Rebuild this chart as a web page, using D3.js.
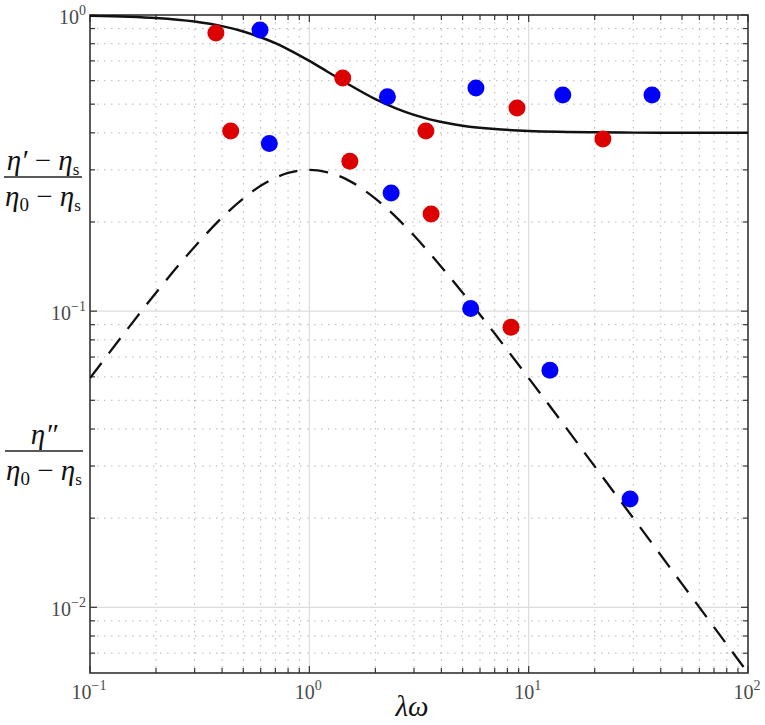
<!DOCTYPE html>
<html>
<head>
<meta charset="utf-8">
<script src="https://cdn.jsdelivr.net/npm/d3@7"></script>
<style>
  body { margin: 0; background: #fff; }
  svg text { font-family: "Liberation Serif", "DejaVu Serif", serif; }
</style>
</head>
<body>
<div class="container"></div>
<script>
// data
const redX = [0.375, 1.42, 0.438, 3.40, 8.85, 21.8, 1.53, 3.59, 8.31]
const redY = [0.869, 0.613, 0.406, 0.406, 0.485, 0.381, 0.321, 0.213, 0.0883]
const blueX = [0.596, 2.27, 5.75, 14.3, 36.5, 0.657, 2.36, 5.44, 12.5, 29.0]
const blueY = [0.890, 0.530, 0.567, 0.537, 0.537, 0.368, 0.2505, 0.102, 0.0632, 0.0232]

// solid (storage) and dashed (loss) curves
const curveX = [0.1, 0.15, 0.2, 0.3, 0.4, 0.5, 0.6, 0.7, 0.8, 1, 1.2, 1.5, 2, 2.5, 3, 4, 5, 7, 10, 15, 20, 30, 50, 70, 100]
const storageY = [0.994, 0.987, 0.977, 0.950, 0.917, 0.880, 0.841, 0.803, 0.766, 0.700, 0.646, 0.585, 0.520, 0.483, 0.460, 0.435, 0.423, 0.412, 0.406, 0.403, 0.4015, 0.4007, 0.4002, 0.4001, 0.4]
const lossY = [0.0594, 0.088, 0.1154, 0.165, 0.207, 0.240, 0.265, 0.282, 0.293, 0.300, 0.295, 0.277, 0.240, 0.207, 0.180, 0.141, 0.1154, 0.084, 0.0594, 0.0399, 0.0299, 0.020, 0.012, 0.00857, 0.006]

const xMajor = [0.1, 1, 10, 100]
const xMajorExp = ["-1", "0", "1", "2"]
const yMajor = [0.01, 0.1, 1]
const yMajorExp = ["-2", "-1", "0"]

const width = 765
const height = 725
const plotL = 90, plotR = 748, plotT = 15, plotB = 673

const xScale = d3.scaleLog().domain([0.1, 100]).range([plotL, plotR])
const yScale = d3.scaleLog().domain([0.006, 1]).range([plotB, plotT])

const minorOf = (lo, hi) => {
  const out = []
  for (let e = Math.floor(Math.log10(lo)); e < Math.ceil(Math.log10(hi)); e++) {
    for (let k = 2; k <= 9; k++) {
      const v = k * Math.pow(10, e)
      if (v > lo * 1.0001 && v < hi * 0.9999) out.push(v)
    }
  }
  return out
}
const xMinor = minorOf(0.1, 100)
const yMinor = minorOf(0.006, 1)

const svg = d3.select(".container")
  .append("svg")
    .attr("width", width)
    .attr("height", height)

// grid
const grid = svg.append("g")
grid.selectAll(".xminor").data(xMinor).enter().append("line")
  .attr("x1", d => xScale(d)).attr("x2", d => xScale(d))
  .attr("y1", plotT).attr("y2", plotB)
  .attr("stroke", "#b5b5b5").attr("stroke-width", 1).attr("stroke-dasharray", "1.5,5.5")
grid.selectAll(".yminor").data(yMinor).enter().append("line")
  .attr("y1", d => yScale(d)).attr("y2", d => yScale(d))
  .attr("x1", plotL).attr("x2", plotR)
  .attr("stroke", "#b5b5b5").attr("stroke-width", 1).attr("stroke-dasharray", "1.5,5.5")
grid.selectAll(".xmajor").data(xMajor.slice(1, -1)).enter().append("line")
  .attr("x1", d => xScale(d)).attr("x2", d => xScale(d))
  .attr("y1", plotT).attr("y2", plotB)
  .attr("stroke", "#dcdcdc").attr("stroke-width", 1.2)
grid.selectAll(".ymajor").data(yMajor.slice(0, -1)).enter().append("line")
  .attr("y1", d => yScale(d)).attr("y2", d => yScale(d))
  .attr("x1", plotL).attr("x2", plotR)
  .attr("stroke", "#dcdcdc").attr("stroke-width", 1.2)

// inward ticks on all four sides
const xAll = xMajor.concat(xMinor)
const yAll = yMajor.concat(yMinor)
const tickLen = d => (xMajor.includes(d) || yMajor.includes(d)) ? 7 : 5
const ticks = svg.append("g").attr("stroke", "#333").attr("stroke-width", 1.2)
xAll.forEach(d => {
  ticks.append("line").attr("x1", xScale(d)).attr("x2", xScale(d)).attr("y1", plotB).attr("y2", plotB - tickLen(d))
  ticks.append("line").attr("x1", xScale(d)).attr("x2", xScale(d)).attr("y1", plotT).attr("y2", plotT + tickLen(d))
})
yAll.forEach(d => {
  ticks.append("line").attr("y1", yScale(d)).attr("y2", yScale(d)).attr("x1", plotL).attr("x2", plotL + tickLen(d))
  ticks.append("line").attr("y1", yScale(d)).attr("y2", yScale(d)).attr("x1", plotR).attr("x2", plotR - tickLen(d))
})

// box
svg.append("rect")
  .attr("x", plotL).attr("y", plotT)
  .attr("width", plotR - plotL).attr("height", plotB - plotT)
  .attr("fill", "none").attr("stroke", "#333").attr("stroke-width", 1.6)

// tick labels: "10" with a raised exponent
const powLabel = (sel, x, y, anchor, exp) => {
  const t = sel.append("text")
    .attr("x", x).attr("y", y)
    .attr("text-anchor", anchor)
    .style("font-size", "20px")
    .style("fill", "#4a4a4a")
  t.append("tspan").text("10")
  t.append("tspan").attr("dy", -9).style("font-size", "14px").text(exp.replace("-", "\u2212"))
}
xMajor.forEach((d, i) => powLabel(svg, xScale(d) - 1, plotB + 26, "middle", xMajorExp[i]))
yMajor.forEach((d, i) => powLabel(svg, plotL - 4, yScale(d) + 9, "end", yMajorExp[i]))

// curves
const line = d3.line()
  .x(d => xScale(d[0]))
  .y(d => yScale(d[1]))
  .curve(d3.curveMonotoneX)

svg.append("defs").append("clipPath").attr("id", "plot")
  .append("rect").attr("x", plotL).attr("y", plotT).attr("width", plotR - plotL).attr("height", plotB - plotT)

svg.append("path")
  .datum(curveX.map((x, i) => [x, storageY[i]]))
  .attr("d", line)
  .attr("clip-path", "url(#plot)")
  .attr("fill", "none").attr("stroke", "#111").attr("stroke-width", 2.5)

svg.append("path")
  .datum(curveX.map((x, i) => [x, lossY[i]]))
  .attr("d", line)
  .attr("clip-path", "url(#plot)")
  .attr("fill", "none").attr("stroke", "#111").attr("stroke-width", 2.3)
  .attr("stroke-dasharray", "19,12")

// points
svg.selectAll(".red")
  .data(redX.map((x, i) => [x, redY[i]]))
  .enter().append("circle")
  .attr("cx", d => xScale(d[0])).attr("cy", d => yScale(d[1]))
  .attr("r", 8.5).attr("fill", "#dd0000")

svg.selectAll(".blue")
  .data(blueX.map((x, i) => [x, blueY[i]]))
  .enter().append("circle")
  .attr("cx", d => xScale(d[0])).attr("cy", d => yScale(d[1]))
  .attr("r", 8.5).attr("fill", "#0000ff")

// y labels (fractions)
const frac = (cx, lineY, numer, lineX1, lineX2) => {
  const n = svg.append("text").attr("x", cx).attr("y", lineY - 7).attr("text-anchor", "middle")
    .style("font-size", "29px").style("fill", "#111")
  numer(n)
  svg.append("line").attr("x1", lineX1).attr("x2", lineX2).attr("y1", lineY).attr("y2", lineY)
    .attr("stroke", "#222").attr("stroke-width", 1.6)
  const dd = svg.append("text").attr("x", cx).attr("y", lineY + 29).attr("text-anchor", "middle")
    .style("font-size", "29px").style("fill", "#111")
  dd.append("tspan").style("font-style", "italic").text("\u03b7")
  dd.append("tspan").style("font-size", "19px").attr("dy", 5).text("0")
  dd.append("tspan").attr("dy", -5).text(" \u2212 ")
  dd.append("tspan").style("font-style", "italic").text("\u03b7")
  dd.append("tspan").style("font-size", "17px").attr("dy", 5).text("s")
}
frac(43, 177, t => {
  t.append("tspan").style("font-style", "italic").text("\u03b7\u2032")
  t.append("tspan").text(" \u2212 ")
  t.append("tspan").style("font-style", "italic").text("\u03b7")
  t.append("tspan").style("font-size", "17px").attr("dy", 5).text("s")
}, 4, 82)
frac(44, 451, t => {
  t.append("tspan").style("font-style", "italic").text("\u03b7\u2033")
}, 5, 83)

// x label
svg.append("text")
  .attr("x", 412).attr("y", 716)
  .attr("text-anchor", "middle")
  .style("font-size", "29px").style("font-style", "italic").style("fill", "#111")
  .text("\u03bb\u03c9")
</script>
</body>
</html>
